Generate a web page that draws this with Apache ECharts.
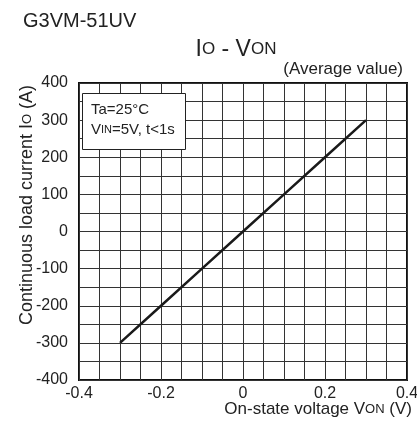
<!DOCTYPE html>
<html>
<head>
<meta charset="utf-8">
<script src="https://cdn.jsdelivr.net/npm/echarts@6/dist/echarts.min.js"></script>
<style>
  html, body { margin: 0; padding: 0; background: #fff; }
  #chart { width: 417px; height: 424px; }
</style>
</head>
<body>
<div id="chart"></div>
<script>
  // Io - Von, average value
  var voltage = [-0.3, -0.2, -0.1, 0, 0.1, 0.2, 0.3]
  var current = [-300, -200, -100, 0, 100, 200, 300]
  var xTicks = [-0.4, -0.2, 0, 0.2, 0.4]
  var yTicks = [-400, -300, -200, -100, 0, 100, 200, 300, 400]

  var font = '"Liberation Sans", Arial, sans-serif'
  var ink = '#222'
  var chart = echarts.init(document.getElementById('chart'))

  function near(v, list) {
    for (var i = 0; i < list.length; i++) {
      if (Math.abs(v - list[i]) < 1e-6) return true
    }
    return false
  }

  chart.setOption({
    animation: false,
    textStyle: { fontFamily: font, color: ink },
    grid: {
      left: 79, right: 10, top: 83, bottom: 44,
      containLabel: false,
      outerBoundsMode: 'none',
      show: true, borderColor: '#111', borderWidth: 2, backgroundColor: 'transparent'
    },
    xAxis: {
      type: 'value',
      min: -0.4, max: 0.4, interval: 0.05,
      axisLine: { show: false, onZero: false },
      axisTick: { show: false },
      splitLine: { show: true, lineStyle: { color: '#333', width: 1 } },
      axisLabel: {
        fontFamily: font, fontSize: 16, color: ink, margin: 6,
        showMinLabel: true, showMaxLabel: true,
        formatter: function (v) {
          return near(v, xTicks) ? String(Math.round(v * 10) / 10) : ''
        }
      }
    },
    yAxis: {
      type: 'value',
      min: -400, max: 400, interval: 50,
      axisLine: { show: false, onZero: false },
      axisTick: { show: false },
      splitLine: { show: true, lineStyle: { color: '#333', width: 1 } },
      axisLabel: {
        fontFamily: font, fontSize: 16, color: ink, margin: 11,
        formatter: function (v) {
          return near(v, yTicks) ? String(v) : ''
        }
      }
    },
    graphic: [
      {
        type: 'text',
        left: 23, top: 11,
        style: { text: 'G3VM-51UV', font: '20px ' + font, fill: ink }
      },
      {
        type: 'text',
        x: 236, y: 38,
        style: {
          text: 'I{s|O} - V{s|ON}',
          font: '23px ' + font, fill: ink, align: 'center',
          rich: { s: { font: '17px ' + font, fill: ink } }
        }
      },
      {
        type: 'text',
        x: 403, y: 61,
        style: { text: '(Average value)', font: '17px ' + font, fill: ink, align: 'right' }
      },
      // axis titles
      {
        type: 'text',
        x: 27, y: 205,
        rotation: Math.PI / 2,
        style: {
          text: 'Continuous load current I{s|O} (A)',
          font: '18px ' + font, fill: ink, align: 'center', verticalAlign: 'middle',
          rich: { s: { font: '13px ' + font, fill: ink } }
        }
      },
      {
        type: 'text',
        x: 412, y: 401,
        style: {
          text: 'On-state voltage V{s|ON} (V)',
          font: '17px ' + font, fill: ink, align: 'right',
          rich: { s: { font: '13px ' + font, fill: ink } }
        }
      },
      // conditions box
      {
        type: 'rect',
        left: 82, top: 93,
        shape: { width: 103, height: 56 },
        style: { fill: '#fff', stroke: ink, lineWidth: 1 },
        z: 10
      },
      {
        type: 'text',
        left: 91, top: 100,
        style: {
          text: 'Ta=25°C\nV{s|IN}=5V, t<1s',
          font: '15px ' + font,
          fill: ink,
          lineHeight: 20,
          rich: { s: { font: '11px ' + font, fill: ink, lineHeight: 20 } }
        },
        z: 11
      }
    ],
    series: [
      {
        type: 'line',
        data: voltage.map(function (v, i) { return [v, current[i]] }),
        showSymbol: false,
        lineStyle: { color: '#1a1a1a', width: 2.5 },
        z: 5
      }
    ]
  })
</script>
</body>
</html>
